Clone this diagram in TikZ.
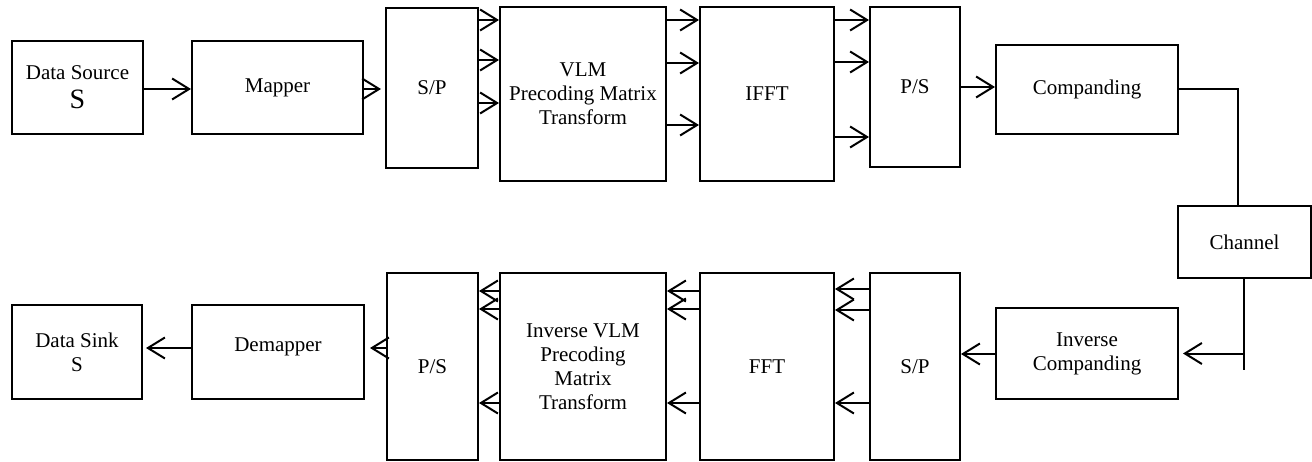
\documentclass[tikz,border=0pt]{standalone}
\usepackage{fontspec}
\setmainfont{Liberation Serif}
\usetikzlibrary{arrows.meta}
\tikzset{
  box/.style={draw, line width=2pt, inner sep=0pt, align=center,
              font=\fontsize{21}{24}\selectfont},
  ln/.style={line width=2pt},
  arr/.style={line width=2pt, -{Straight Barb[length=17pt,width=21pt]}},
}
\begin{document}
\begin{tikzpicture}[x=1pt,y=-1pt]
\useasboundingbox (0,0) rectangle (1312,462);
% transmitter chain
\node[box, minimum width=131pt, minimum height=93pt] (src) at (77.5,87.5)
  {Data Source\\[5pt]{\fontsize{28}{30}\selectfont S}};
\node[box, minimum width=171pt, minimum height=93pt] (map) at (277.5,87.5) {Mapper};
\node[box, minimum width=92pt, minimum height=160pt] (sp1) at (432,88) {S/P};
\node[box, minimum width=166pt, minimum height=174pt] (vlm) at (583,94)
  {VLM\\Precoding Matrix\\Transform};
\node[box, minimum width=134pt, minimum height=174pt] (ifft) at (767,94) {IFFT};
\node[box, minimum width=90pt, minimum height=160pt] (ps1) at (915,87) {P/S};
\node[box, minimum width=182pt, minimum height=89pt] (comp) at (1087,89.5) {Companding};
\node[box, minimum width=133pt, minimum height=72pt] (chan) at (1244.5,242) {Channel};
% receiver chain
\node[box, minimum width=182pt, minimum height=91pt] (icomp) at (1087,353.5)
  {Inverse\\Companding};
\node[box, minimum width=90pt, minimum height=187pt] (sp2) at (915,366.5) {S/P};
\node[box, minimum width=134pt, minimum height=187pt] (fft) at (767,366.5) {FFT};
\node[box, minimum width=166pt, minimum height=187pt] (ivlm) at (583,366.5)
  {Inverse VLM\\Precoding\\Matrix\\Transform};
\node[box, minimum width=91pt, minimum height=187pt] (ps2) at (432.5,366.5) {P/S};
\node[box, minimum width=172pt, minimum height=94pt] (dmap) at (278,352)
  {\raisebox{14pt}{Demapper}};
\node[box, minimum width=130pt, minimum height=94pt] (sink) at (77,352)
  {Data Sink\\S};

% forward links
\draw[arr] (src.east |- 0,89) -- (map.west |- 0,89);
\draw[arr] (map.east |- 0,89) -- ([xshift=-4pt]sp1.west |- 0,89);
\foreach \y in {20,60,103}
  \draw[arr] (sp1.east |- 0,\y) -- (vlm.west |- 0,\y);
\foreach \y in {20,63,125}
  \draw[arr] (vlm.east |- 0,\y) -- (ifft.west |- 0,\y);
\foreach \y in {20,62,137}
  \draw[arr] (ifft.east |- 0,\y) -- (ps1.west |- 0,\y);
\draw[arr] (ps1.east |- 0,87) -- (comp.west |- 0,87);
\draw[ln] (comp.east) -| ([xshift=-6.5pt]chan.north);

% return links
\draw[ln] ([xshift=-0.5pt]chan.south) -- ++(0,91) coordinate (tail);
\draw[arr] (tail |- icomp.east) -- ([xshift=4pt]icomp.east);
\draw[arr] (icomp.west |- 0,354) -- (sp2.east |- 0,354);
\foreach \y in {289,310,403}
  \draw[arr] (sp2.west |- 0,\y) -- (fft.east |- 0,\y);
\foreach \y in {291,309,403}
  \draw[arr] (fft.west |- 0,\y) -- (ivlm.east |- 0,\y);
\foreach \y in {291,309,403}
  \draw[arr] (ivlm.west |- 0,\y) -- (ps2.east |- 0,\y);
\draw[arr] (ps2.west |- 0,348) -- ([xshift=5pt]dmap.east |- 0,348);
\draw[arr] (dmap.west |- 0,348) -- ([xshift=3pt]sink.east |- 0,348);
\end{tikzpicture}
\end{document}
